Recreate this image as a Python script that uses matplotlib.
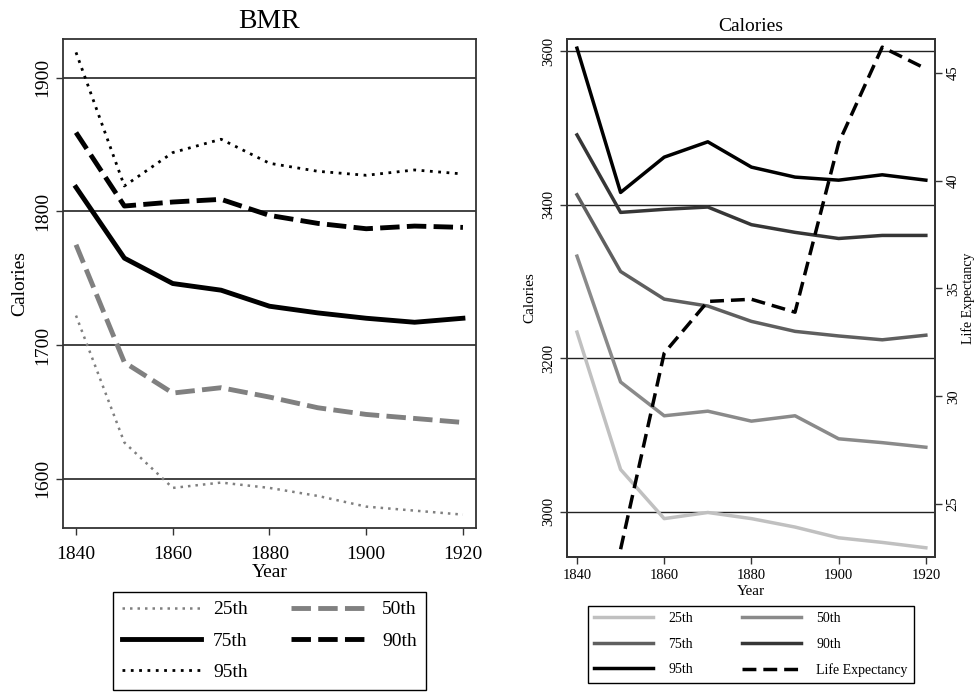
import numpy as np
import matplotlib
matplotlib.use("Agg")
import matplotlib.pyplot as plt

plt.rcParams['font.family'] = ['Liberation Serif', 'DejaVu Serif']

years = [1840, 1850, 1860, 1870, 1880, 1890, 1900, 1910, 1920]

# BMR percentiles (left panel)
bmr_25 = [1722, 1627, 1593, 1597, 1593, 1587, 1579, 1576, 1573]
bmr_50 = [1775, 1687, 1664, 1668, 1661, 1653, 1648, 1645, 1642]
bmr_75 = [1818, 1765, 1746, 1741, 1729, 1724, 1720, 1717, 1720]
bmr_90 = [1859, 1804, 1807, 1809, 1797, 1791, 1787, 1789, 1788]
bmr_95 = [1919, 1819, 1844, 1854, 1836, 1830, 1827, 1831, 1828]

# calorie percentiles (right panel)
cal_25 = [3234, 3055, 2991, 2999, 2991, 2980, 2966, 2960, 2953]
cal_50 = [3333, 3169, 3125, 3131, 3118, 3125, 3095, 3090, 3084]
cal_75 = [3413, 3313, 3277, 3268, 3248, 3235, 3229, 3224, 3230]
cal_90 = [3491, 3390, 3394, 3397, 3374, 3364, 3356, 3360, 3360]
cal_95 = [3604, 3416, 3462, 3482, 3449, 3436, 3432, 3439, 3432]

le_years = [1850, 1860, 1870, 1880, 1890, 1900, 1910, 1920]
life_exp = [22.9, 32.0, 34.4, 34.5, 33.9, 41.75, 46.2, 45.2]

xticks = [1840, 1860, 1880, 1900, 1920]
bmr_ticks = [1600, 1700, 1800, 1900]
cal_ticks = [3000, 3200, 3400, 3600]
le_ticks = [25, 30, 35, 40, 45]

fig = plt.figure(figsize=(9.76, 6.92), dpi=100)

def style_axes(ax, fs, xpad=3.5):
    for s in ax.spines.values():
        s.set_linewidth(1.3)
        s.set_color('#333333')
    ax.tick_params(axis='both', labelsize=fs, length=5, width=1.0, color='#333333')
    ax.tick_params(axis='x', pad=xpad)
    for lab in ax.get_yticklabels():
        lab.set_rotation(90)
        lab.set_va('center')

# ---- left: BMR
ax1 = fig.add_axes([0.0645, 0.2370, 0.4232, 0.7066])
for t in bmr_ticks:
    ax1.axhline(t, color='#222222', lw=1.2, zorder=1)
l25, = ax1.plot(years, bmr_25, color='#808080', lw=1.8, ls=(0, (1, 2)), label='25th')
l50, = ax1.plot(years, bmr_50, color='#808080', lw=3.5, ls=(0, (4, 1.5)), label='50th')
l75, = ax1.plot(years, bmr_75, color='black', lw=3.5, ls='-', label='75th')
l90, = ax1.plot(years, bmr_90, color='black', lw=3.5, ls=(0, (4, 1.5)), label='90th')
l95, = ax1.plot(years, bmr_95, color='black', lw=2.0, ls=(0, (1, 2)), label='95th')
ax1.set_xlim(1837.3, 1922.7)
ax1.set_ylim(1563, 1929)
ax1.set_xticks(xticks)
ax1.set_yticks(bmr_ticks)
style_axes(ax1, 14, xpad=8)
ax1.set_title('BMR', fontsize=20, pad=8)
ax1.set_xlabel('Year', fontsize=14, labelpad=1)
ax1.set_ylabel('Calories', fontsize=14, labelpad=4)

fig.legend([l25, l75, l95, l50, l90], ['25th', '75th', '95th', '50th', '90th'],
           ncol=2, loc='upper left', bbox_to_anchor=(0.1158, 0.1445),
           fontsize=14, handlelength=4.1, frameon=True,
           fancybox=False, edgecolor='black', framealpha=1, borderaxespad=0,
           borderpad=0.45, labelspacing=0.7, handletextpad=0.6, columnspacing=2.2)

# ---- right: calories + life expectancy
ax2 = fig.add_axes([0.5809, 0.1951, 0.3771, 0.7486])
for t in cal_ticks:
    ax2.axhline(t, color='#222222', lw=1.0, zorder=1)
c25, = ax2.plot(years, cal_25, color='#c0c0c0', lw=2.5, label='25th')
c50, = ax2.plot(years, cal_50, color='#8a8a8a', lw=2.5, label='50th')
c75, = ax2.plot(years, cal_75, color='#5f5f5f', lw=2.5, label='75th')
c90, = ax2.plot(years, cal_90, color='#363636', lw=2.5, label='90th')
c95, = ax2.plot(years, cal_95, color='black', lw=2.5, label='95th')
ax2.set_xlim(1837.7, 1922.1)
ax2.set_ylim(2941, 3616)
ax2.set_xticks(xticks)
ax2.set_yticks(cal_ticks)
style_axes(ax2, 10.5)
ax2.set_title('Calories', fontsize=14, pad=6)
ax2.set_xlabel('Year', fontsize=11, labelpad=2)
ax2.set_ylabel('Calories', fontsize=11, labelpad=4)

ax3 = ax2.twinx()
lle, = ax3.plot(le_years, life_exp, color='black', lw=2.5, ls=(0, (4, 2)), label='Life Expectancy')
ax3.set_ylim(22.54, 46.58)
ax3.set_yticks(le_ticks)
style_axes(ax3, 10.5)
ax3.set_ylabel('Life Expectancy', fontsize=10, labelpad=1)

fig.legend([c25, c75, c95, c50, c90, lle],
           ['25th', '75th', '95th', '50th', '90th', 'Life Expectancy'],
           ncol=2, loc='upper left', bbox_to_anchor=(0.6025, 0.1243),
           fontsize=10, handlelength=4.25, frameon=True,
           fancybox=False, edgecolor='black', framealpha=1, borderaxespad=0,
           borderpad=0.45, labelspacing=0.9, handletextpad=1.1, columnspacing=3.5)

fig.savefig('out.png', dpi=100)
